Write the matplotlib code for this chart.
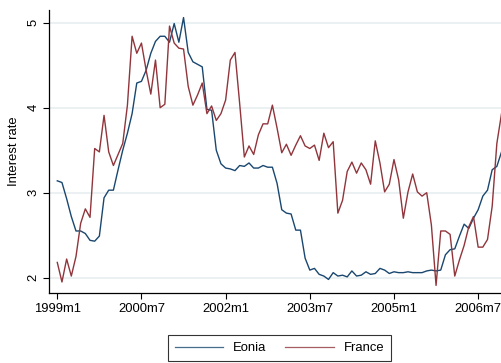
import numpy as np
import matplotlib
matplotlib.use('Agg')
import matplotlib.pyplot as plt

# monthly series 1999m1 - 2006m12
eonia = [3.14, 3.12, 2.93, 2.72, 2.55, 2.55, 2.52, 2.44, 2.43, 2.49, 2.94, 3.03,
         3.03, 3.27, 3.50, 3.70, 3.93, 4.29, 4.31, 4.44, 4.64, 4.78, 4.84, 4.84,
         4.77, 4.99, 4.77, 5.06, 4.65, 4.54, 4.51, 4.48, 3.98, 3.97, 3.50, 3.34,
         3.29, 3.28, 3.26, 3.32, 3.31, 3.35, 3.29, 3.29, 3.32, 3.30, 3.30, 3.11,
         2.80, 2.76, 2.75, 2.56, 2.56, 2.23, 2.09, 2.11, 2.04, 2.02, 1.98, 2.06,
         2.02, 2.03, 2.01, 2.08, 2.02, 2.03, 2.07, 2.04, 2.05, 2.11, 2.09, 2.05,
         2.07, 2.06, 2.06, 2.07, 2.06, 2.06, 2.06, 2.08, 2.09, 2.08, 2.09, 2.27,
         2.33, 2.34, 2.49, 2.63, 2.58, 2.70, 2.80, 2.96, 3.03, 3.27, 3.31, 3.48]

france = [2.18, 1.95, 2.22, 2.02, 2.25, 2.64, 2.81, 2.71, 3.52, 3.48, 3.91, 3.48,
          3.32, 3.45, 3.58, 4.03, 4.84, 4.64, 4.76, 4.44, 4.16, 4.56, 4.00, 4.04,
          4.96, 4.76, 4.70, 4.69, 4.25, 4.03, 4.15, 4.29, 3.93, 4.02, 3.85, 3.93,
          4.09, 4.56, 4.65, 4.05, 3.42, 3.55, 3.45, 3.68, 3.81, 3.81, 4.03, 3.76,
          3.47, 3.57, 3.44, 3.56, 3.67, 3.55, 3.52, 3.56, 3.38, 3.70, 3.53, 3.60,
          2.76, 2.91, 3.25, 3.36, 3.23, 3.35, 3.27, 3.10, 3.61, 3.35, 3.01, 3.10,
          3.39, 3.15, 2.70, 3.01, 3.22, 3.01, 2.96, 3.00, 2.62, 1.91, 2.55, 2.55,
          2.51, 2.02, 2.21, 2.38, 2.60, 2.72, 2.36, 2.36, 2.45, 2.84, 3.58, 3.93]

tick_pos = [0, 18, 36, 54, 72, 90]
tick_labels = ['1999m1', '2000m7', '2002m1', '2003m7', '2005m1', '2006m7']

plt.rcParams['font.family'] = ['Liberation Sans', 'DejaVu Sans']
plt.rcParams['font.size'] = 9.4

months = np.arange(len(eonia))

fig = plt.figure(figsize=(5.02, 3.63), dpi=100)
ax = fig.add_axes([49/502, 69.7/363, 1 - 49/502, 283.3/363])

ax.plot(months, eonia, color='#1a476f', lw=1.0, label='Eonia')
ax.plot(months, france, color='#90353b', lw=1.0, label='France')

ax.set_xlim(-1.77, 95.1)
ax.set_ylim(1.817, 5.149)
ax.set_yticks([2, 3, 4, 5])
ax.set_yticklabels(['2', '3', '4', '5'], rotation=90, va='center')
ax.set_xticks(tick_pos)
ax.set_xticklabels(tick_labels)
ax.tick_params(length=4, width=0.8, color='black', labelcolor='black', pad=3)
ax.yaxis.grid(True, color='#e6eef0', lw=1.1)
ax.set_axisbelow(True)
for s in ['top', 'right']:
    ax.spines[s].set_visible(False)
for s in ['left', 'bottom']:
    ax.spines[s].set_linewidth(0.9)
ax.set_ylabel('Interest rate', labelpad=5)

leg = fig.legend(loc='center', bbox_to_anchor=(279.5/502, 15/363), ncol=2,
                 frameon=True, fancybox=False, edgecolor='black',
                 handlelength=3.7, columnspacing=1.45, handletextpad=0.75,
                 borderpad=0.5)
leg.get_frame().set_linewidth(0.8)
for line in leg.get_lines():
    line.set_linewidth(0.9)
    line.set_alpha(0.8)

fig.savefig('out.png', dpi=100)
